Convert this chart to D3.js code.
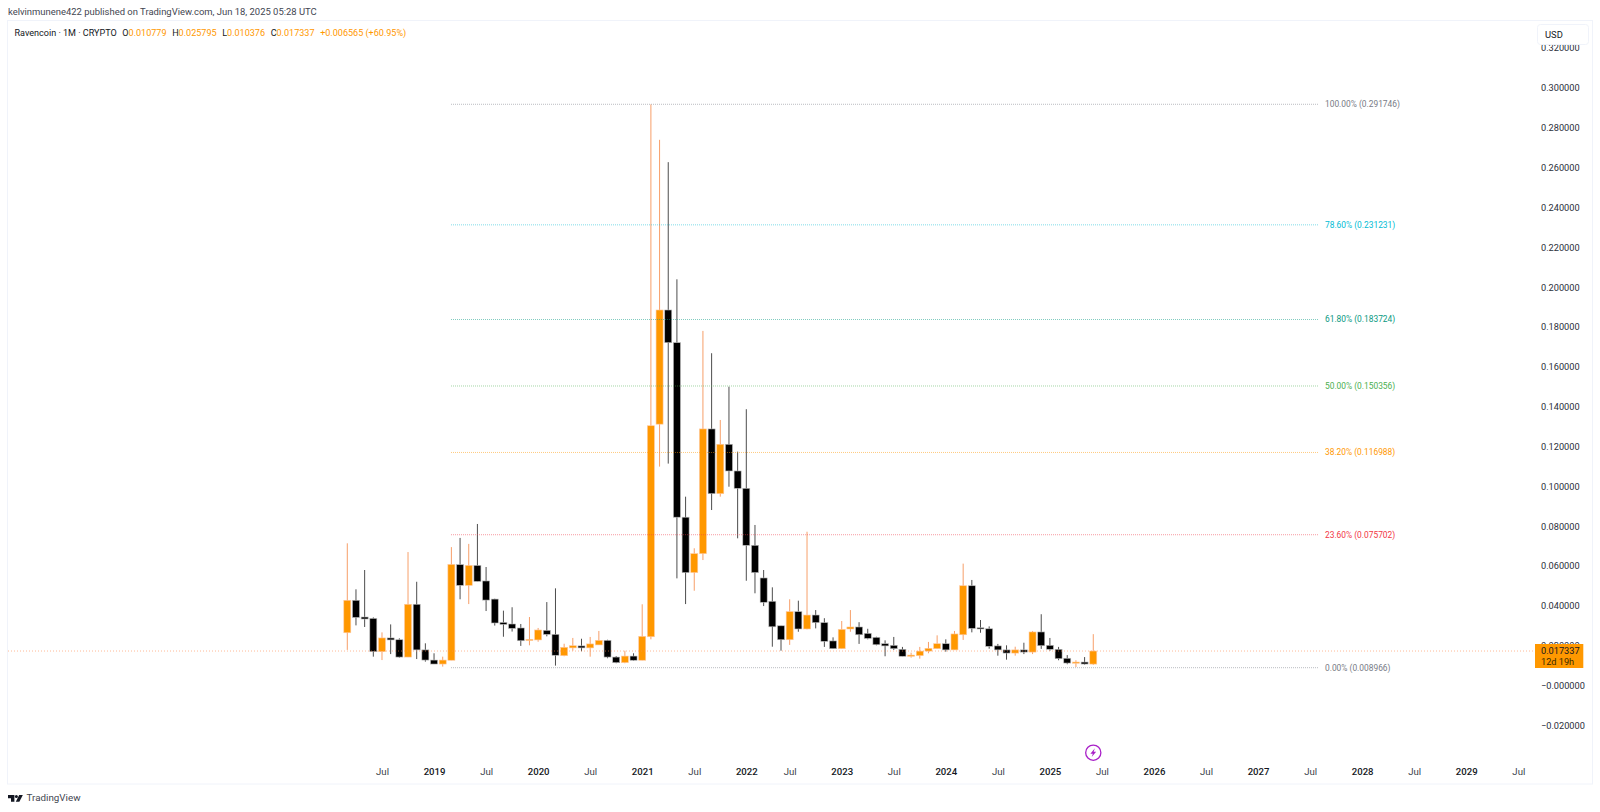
<!DOCTYPE html>
<html><head><meta charset="utf-8">
<script src="https://cdnjs.cloudflare.com/ajax/libs/d3/7.8.5/d3.min.js"></script>
<style>html,body{margin:0;padding:0;background:#fff}svg{display:block}text{font-family:Roboto,sans-serif}</style>
</head><body><svg id="c" width="1600" height="812"></svg>
<script>
// Bars: Mar 2018 – Jun 2025 (one month absent from the feed in spring 2022)
const barMonths = ["2018-03","2018-04","2018-05","2018-06","2018-07","2018-08","2018-09","2018-10","2018-11","2018-12",
"2019-01","2019-02","2019-03","2019-04","2019-05","2019-06","2019-07","2019-08","2019-09","2019-10","2019-11","2019-12",
"2020-01","2020-02","2020-03","2020-04","2020-05","2020-06","2020-07","2020-08","2020-09","2020-10","2020-11","2020-12",
"2021-01","2021-02","2021-03","2021-04","2021-05","2021-06","2021-07","2021-08","2021-09","2021-10","2021-11","2021-12",
"2022-01","2022-02","2022-03","2022-04","2022-06","2022-07","2022-08","2022-09","2022-10","2022-11","2022-12",
"2023-01","2023-02","2023-03","2023-04","2023-05","2023-06","2023-07","2023-08","2023-09","2023-10","2023-11","2023-12",
"2024-01","2024-02","2024-03","2024-04","2024-05","2024-06","2024-07","2024-08","2024-09","2024-10","2024-11","2024-12",
"2025-01","2025-02","2025-03","2025-04","2025-05","2025-06"];
const futureMonths = ["2025-07","2025-08","2025-09","2025-10","2025-11","2025-12",
"2026-01","2026-02","2026-03","2026-04","2026-05","2026-06","2026-07","2026-08","2026-09","2026-10","2026-11","2026-12",
"2027-01","2027-02","2027-03","2027-04","2027-05","2027-06","2027-07","2027-08","2027-09","2027-10","2027-11","2027-12",
"2028-01","2028-02","2028-03","2028-04","2028-05","2028-06","2028-07","2028-08","2028-09","2028-10","2028-11","2028-12",
"2029-01","2029-02","2029-03","2029-04","2029-05","2029-06","2029-07"];
const opens = [.0265,.0428,.0344,.0337,.0170,.0239,.0230,.0143,.0408,.0179,.0128,.0108,.0127,.0607,.0503,.0603,.0525,.0434,.0317,.0309,.0289,.0229,.0229,.0277,.0257,.0150,.0189,.0199,.0189,.0204,.0227,.0143,.0115,.0148,.0127,
.0245,.1312,.1885,.1721,.0845,.0567,.0662,.1288,.0963,.1211,.1077,.0990,.0704,.0540,.0423,.0300,.0230,.0371,.0284,.0354,.0316,.0224,.0185,.0284,.0294,.0262,.0242,.0210,.0202,.0182,.0150,.0150,.0173,.0185,.0210,.0179,.0255,.0501,.0290,.0285,.0199,.0179,.0163,.0179,.0168,.0269,.0202,.0182,.0137,.0113,.0118,.010779];
const closes = [.0428,.0342,.0334,.0170,.0239,.0229,.0143,.0408,.0179,.0128,.0108,.0128,.0608,.0503,.0603,.0523,.0429,.0314,.0307,.0287,.0225,.0232,.0279,.0257,.0152,.0192,.0200,.0189,.0209,.0227,.0143,.0115,.0148,.0127,.0247,
.1304,.1885,.1721,.0845,.0567,.0662,.1288,.0963,.1211,.1077,.0990,.0704,.0567,.0418,.0295,.0230,.0371,.0284,.0354,.0316,.0222,.0185,.0282,.0294,.0255,.0237,.0205,.0199,.0185,.0147,.0153,.0173,.0187,.0210,.0179,.0259,.0501,.0287,.0284,.0197,.0179,.0163,.0179,.0168,.0269,.0200,.0182,.0135,.0113,.0118,.0108,.017337];
const highs = [.0714,.0483,.0580,.0342,.0267,.0307,.0237,.0670,.0521,.0212,.0162,.0145,.0695,.0741,.0711,.0811,.0595,.0436,.0376,.0393,.0309,.0344,.0289,.0419,.0488,.0210,.0239,.0235,.0244,.0274,.0230,.0148,.0175,.0162,.0408,
.2917,.2739,.2627,.2039,.0948,.0689,.1780,.1668,.1333,.1500,.1174,.1387,.0806,.0580,.0493,.0300,.0433,.0426,.0772,.0379,.0338,.0242,.0324,.0379,.0318,.0285,.0245,.0227,.0244,.0194,.0165,.0194,.0219,.0252,.0232,.0274,.0612,.0530,.0329,.0297,.0209,.0202,.0195,.0215,.0274,.0358,.0239,.0194,.0153,.0127,.0143,.025795];
const lows = [.0179,.0302,.0294,.0145,.0128,.0158,.0140,.0143,.0133,.0120,.0108,.0095,.0127,.0433,.0409,.0523,.0374,.0301,.0245,.0271,.0199,.0202,.0220,.0247,.0100,.0147,.0175,.0172,.0145,.0204,.0137,.0112,.0112,.0125,.0127,
.0232,.1099,.1114,.0538,.0409,.0476,.0630,.0881,.0948,.0998,.0739,.0526,.0463,.0399,.0195,.0175,.0204,.0270,.0282,.0287,.0194,.0185,.0185,.0270,.0209,.0232,.0202,.0147,.0179,.0147,.0140,.0135,.0162,.0185,.0170,.0179,.0229,.0267,.0265,.0185,.0150,.0130,.0150,.0158,.0158,.0184,.0175,.0127,.0107,.0093,.0105,.010376];

const yTicks = [-0.02,0,0.02,0.04,0.06,0.08,0.10,0.12,0.14,0.16,0.18,0.20,0.22,0.24,0.26,0.28,0.30,0.32];
const xTickMonths = ["2018-07","2019-01","2019-07","2020-01","2020-07","2021-01","2021-07","2022-01","2022-07","2023-01","2023-07","2024-01","2024-07","2025-01","2025-07","2026-01","2026-07","2027-01","2027-07","2028-01","2028-07","2029-01","2029-07"];
const fibLevels = ["100.00%","78.60%","61.80%","50.00%","38.20%","23.60%","0.00%"];
const fibValues = [.291746,.231231,.183724,.150356,.116988,.075702,.008966];
const fibColors = ["#787b86","#00bcd4","#089981","#4caf50","#ff9800","#f23645","#787b86"];
const lastClose = .017337;
const UP = "#ff9800", DOWN = "#000000", UPWICK = "#f4762a";

const svg = d3.select("#c");
// panel
svg.append("rect").attr("x",7.5).attr("y",20.5).attr("width",1585).attr("height",763.5)
  .attr("fill","#fff").attr("stroke","#f0f3fa").attr("stroke-width",1);

const x = d3.scalePoint().domain(barMonths.concat(futureMonths)).range([347.3,1518.3]);
const y = d3.scaleLinear().domain([0,0.3]).range([685.56,87.84]);

// candles
const bars = barMonths.map((m,i)=>({m,o:opens[i],h:highs[i],l:lows[i],c:closes[i]}));
const gC = svg.append("g");
const bw = 7;
gC.selectAll("line").data(bars).join("line")
  .attr("x1",d=>x(d.m)).attr("x2",d=>x(d.m))
  .attr("y1",d=>y(d.h)).attr("y2",d=>y(d.l))
  .attr("stroke",d=>d.c>=d.o?UPWICK:DOWN).attr("stroke-width",1)
  .attr("stroke-opacity",0.7);
gC.selectAll("rect").data(bars).join("rect")
  .attr("x",d=>x(d.m)-bw/2).attr("width",bw)
  .attr("y",d=>y(Math.max(d.o,d.c)))
  .attr("height",d=>Math.max(1.2,Math.abs(y(d.o)-y(d.c))))
  .attr("fill",d=>d.c>=d.o?UP:DOWN)
  .attr("stroke",d=>d.c>=d.o?"#ffc9a0":"#b8b8b8").attr("stroke-width",0.6);

// fibonacci
const fibs = fibLevels.map((l,i)=>({l,v:fibValues[i],col:fibColors[i]}));
const gF = svg.append("g");
gF.selectAll("line").data(fibs).join("line")
  .attr("x1",451).attr("x2",1319).attr("y1",d=>y(d.v)).attr("y2",d=>y(d.v))
  .attr("stroke",d=>d.col).attr("stroke-opacity",.5).attr("stroke-width",1).attr("stroke-dasharray","1 1");
gF.selectAll("text").data(fibs).join("text")
  .attr("x",1325).attr("y",d=>y(d.v)).attr("dy","0.35em")
  .attr("font-size",8.4).attr("fill",d=>d.col)
  .text(d=>`${d.l} (${d.v.toFixed(6)})`);

// last price line
svg.append("line").attr("x1",8).attr("x2",1535).attr("y1",y(lastClose)).attr("y2",y(lastClose))
  .attr("stroke","#ff8a50").attr("stroke-opacity",.6).attr("stroke-width",1).attr("stroke-dasharray","1 2");

// axes
const fmtY = v => (v<=0?"\u2212":"")+Math.abs(v).toFixed(6);
const yAxis = svg.append("g").attr("transform","translate(1541,0)")
  .call(d3.axisRight(y).tickValues(yTicks).tickFormat(fmtY).tickSize(0).tickPadding(0));
yAxis.select(".domain").remove();
yAxis.selectAll("text").attr("font-size",9.2).attr("fill","#2a2e39").attr("font-family","Roboto,sans-serif");

const xAxis = svg.append("g").attr("transform","translate(0,768.5)")
  .call(d3.axisBottom(x).tickValues(xTickMonths).tickSize(0).tickPadding(0)
    .tickFormat(m=>m.endsWith("-01")?m.slice(0,4):"Jul"));
xAxis.select(".domain").remove();
xAxis.selectAll("text").attr("font-size",9.6).attr("font-family","Roboto,sans-serif")
  .attr("fill",m=>m.endsWith("-01")?"#131722":"#3b3f4a")
  .attr("font-weight",m=>m.endsWith("-01")?500:400);

// price tag
const tagG = svg.append("g");
tagG.append("rect").attr("x",1535).attr("y",644).attr("width",48.3).attr("height",24).attr("fill",UP);
tagG.append("text").attr("x",1541).attr("y",y(lastClose)).attr("dy","0.35em").attr("font-size",9.2).attr("fill","#131722").text(lastClose.toFixed(6));
tagG.append("text").attr("x",1541).attr("y",662).attr("dy","0.35em").attr("font-size",9.2).attr("fill","#3a2a00").text("12d 19h");

// USD box
svg.append("rect").attr("x",1537.5).attr("y",24.5).attr("width",51).attr("height",20).attr("rx",3)
  .attr("fill","#fff").attr("stroke","#f0f3fa");
svg.append("text").attr("x",1545).attr("y",34.5).attr("dy","0.35em").attr("font-size",9.4).attr("fill","#131722").text("USD");

// header
svg.append("text").attr("x",8).attr("y",12).attr("dy","0.35em").attr("font-size",9.45).attr("fill","#434651")
  .text("kelvinmunene422 published on TradingView.com, Jun 18, 2025 05:28 UTC");
const lg = svg.append("text").attr("x",14.5).attr("y",33).attr("dy","0.35em").attr("font-size",9.05).attr("fill","#131722");
lg.append("tspan").text("Ravencoin \u00b7 1M \u00b7 CRYPTO");
[["O","0.010779"],["H","0.025795"],["L","0.010376"],["C","0.017337"]].forEach(([a,b])=>{
  lg.append("tspan").attr("dx",5.6).text(a);
  lg.append("tspan").attr("fill",UP).text(b);
});
lg.append("tspan").attr("dx",5.6).attr("fill",UP).text("+0.006565 (+60.95%)");

// lightning badge
const cx=x("2025-06"), cy=752.7;
svg.append("circle").attr("cx",cx).attr("cy",cy).attr("r",7.6).attr("fill","#fff").attr("stroke","#a920c8").attr("stroke-width",1.3);
svg.append("path").attr("transform",`translate(${cx},${cy})`).attr("d","M1.6,-4.4 L-2.9,1 L-0.4,1 L-1.6,4.4 L2.9,-1 L0.4,-1 Z").attr("fill","#a920c8");

// logo
const lgG = svg.append("g").attr("transform","translate(8,795)").attr("fill","#131722");
lgG.append("path").attr("d","M0,0 H6.4 V6.8 H3 V3.2 H0 Z");
lgG.append("circle").attr("cx",8.4).attr("cy",1.5).attr("r",1.5);
lgG.append("path").attr("d","M11.2,0 H14.8 L11.4,6.8 H7.8 Z");
svg.append("text").attr("x",26.6).attr("y",798).attr("dy","0.35em").attr("font-size",9.8).attr("fill","#434651").text("TradingView");
</script></body></html>
